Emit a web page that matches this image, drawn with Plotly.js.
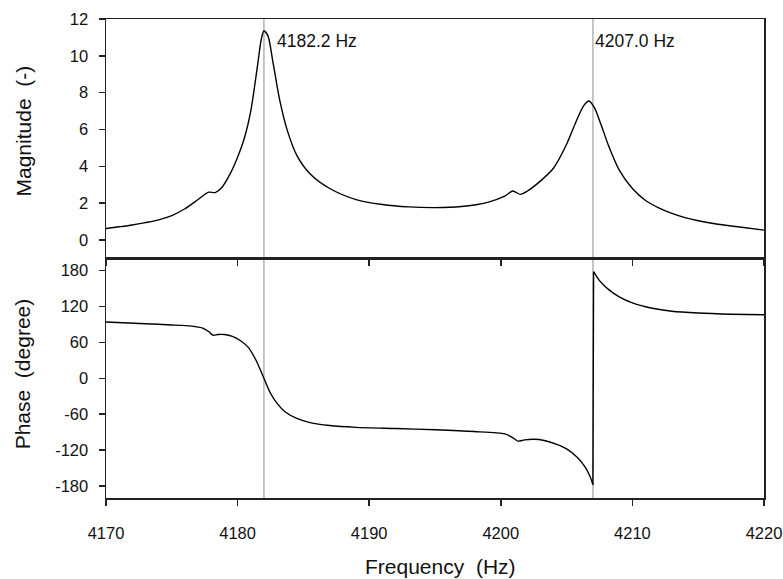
<!DOCTYPE html>
<html>
<head>
<meta charset="utf-8">
<script src="https://cdn.plot.ly/plotly-3.0.1.min.js"></script>
<style>html,body{margin:0;padding:0;background:#fff}#chart{width:783px;height:579px}</style>
</head>
<body>
<div id="chart"></div>
<script>
// Magnitude response
const magFreq = [4170, 4171, 4172, 4173, 4174, 4175, 4176, 4177, 4177.8, 4178.3, 4178.8, 4179.4, 4180.0, 4180.5, 4181.0, 4181.5, 4181.8, 4182.0, 4182.3, 4182.7, 4183.2, 4183.8, 4184.5, 4185.5, 4187, 4189, 4191, 4193, 4195, 4197, 4199, 4200.3, 4200.9, 4201.5, 4202, 4203, 4204, 4205, 4205.7, 4206.3, 4206.7, 4207.1, 4207.6, 4208.2, 4209, 4210, 4211, 4212, 4213, 4214, 4215, 4216.5, 4218, 4220];
const magnitude = [0.63, 0.72, 0.82, 0.95, 1.1, 1.33, 1.7, 2.2, 2.6, 2.58, 2.85, 3.55, 4.5, 5.5, 7.0, 9.4, 10.9, 11.35, 11.1, 9.6, 7.6, 5.9, 4.6, 3.6, 2.8, 2.2, 1.93, 1.8, 1.76, 1.82, 2.05, 2.38, 2.66, 2.48, 2.65, 3.2, 3.9, 5.2, 6.4, 7.3, 7.55, 7.2, 6.3, 5.1, 3.8, 2.8, 2.15, 1.75, 1.45, 1.22, 1.05, 0.86, 0.72, 0.54];
// Phase response, below the jump at the second resonance
const phaseFreqLow = [4170, 4173, 4175, 4176.5, 4177.3, 4177.8, 4178.1, 4178.5, 4179, 4179.6, 4180.2, 4180.8, 4181.4, 4182.0, 4182.5, 4183.0, 4183.6, 4184.5, 4185.5, 4187, 4189, 4192, 4195, 4198, 4200.3, 4200.9, 4201.3, 4201.8, 4202.5, 4203.3, 4204.2, 4205, 4205.8, 4206.4, 4206.8, 4207.0];
const phaseLow = [94, 91, 89, 87, 84, 78, 72, 73, 73, 70, 63, 52, 30, 0, -25, -42, -56, -67, -74, -79, -82, -84, -86, -89, -93, -99, -105, -103, -102, -104, -110, -118, -132, -148, -165, -178];
// Phase response, above the jump
const phaseFreqHigh = [4207.05, 4207.5, 4208.2, 4209, 4210, 4211.5, 4213, 4215, 4217.5, 4220];
const phaseHigh = [178, 163, 148, 136, 126, 117, 112, 109, 107, 106];
// Resonance markers
const resonanceLineFreq = [4182.0, 4207.0];
const resonanceLabels = ['4182.2 Hz', '4207.0 Hz'];
const magTicks = [0, 2, 4, 6, 8, 10, 12];
const phaseTicks = [-180, -120, -60, 0, 60, 120, 180];
const freqTicks = [4170, 4180, 4190, 4200, 4210, 4220];

const font = 'Liberation Sans, Arial, sans-serif';
const tickFont = {family: font, size: 16.5, color: '#111'};
const titleFont = {family: font, size: 21, color: '#111'};

const jumpX = [phaseFreqLow[phaseFreqLow.length - 1], phaseFreqHigh[0]];
const jumpY = [phaseLow[phaseLow.length - 1], phaseHigh[0]];

const traces = [
  {x: magFreq, y: magnitude, xaxis: 'x', yaxis: 'y', mode: 'lines',
   line: {color: '#000', width: 1.4, shape: 'spline', smoothing: 0.8}, hoverinfo: 'skip'},
  {x: phaseFreqLow, y: phaseLow, xaxis: 'x2', yaxis: 'y2', mode: 'lines',
   line: {color: '#000', width: 1.4, shape: 'spline', smoothing: 0.7}, hoverinfo: 'skip'},
  {x: jumpX, y: jumpY, xaxis: 'x2', yaxis: 'y2', mode: 'lines',
   line: {color: '#000', width: 1.4}, hoverinfo: 'skip'},
  {x: phaseFreqHigh, y: phaseHigh, xaxis: 'x2', yaxis: 'y2', mode: 'lines',
   line: {color: '#000', width: 1.4, shape: 'spline', smoothing: 0.7}, hoverinfo: 'skip'}
];

const axisCommon = {
  showgrid: false, zeroline: false, showline: true, linecolor: '#222', linewidth: 1.5,
  ticks: 'outside', ticklen: 6, tickwidth: 1.5, tickcolor: '#222', tickfont: tickFont
};

const shapes = resonanceLineFreq.map(f => ({
  type: 'line', xref: 'x', yref: 'paper', x0: f, x1: f, y0: 0, y1: 1,
  line: {color: '#b8b8b8', width: 1.6}, layer: 'below'
}));

const annotations = resonanceLineFreq.map((f, i) => ({
  x: f, y: 1, xref: 'x', yref: 'paper', text: resonanceLabels[i],
  showarrow: false, xanchor: 'left', yanchor: 'top',
  xshift: i === 0 ? 11 : 0, yshift: -10,
  font: {family: font, size: 17.5, color: '#111'}
}));
annotations.push(
  {x: -0.1255, y: 0.766, xref: 'paper', yref: 'paper', text: 'Magnitude  (-)', textangle: -90,
   showarrow: false, xanchor: 'center', yanchor: 'middle', font: titleFont},
  {x: -0.1255, y: 0.259, xref: 'paper', yref: 'paper', text: 'Phase  (degree)', textangle: -90,
   showarrow: false, xanchor: 'center', yanchor: 'middle', font: titleFont},
  {x: 0.5076, y: -0.144, xref: 'paper', yref: 'paper', text: 'Frequency  (Hz)',
   showarrow: false, xanchor: 'center', yanchor: 'middle', font: titleFont}
);

const layout = {
  width: 783, height: 579,
  margin: {l: 106, r: 19, t: 19, b: 81},
  paper_bgcolor: '#fff', plot_bgcolor: '#fff',
  showlegend: false,
  xaxis: Object.assign({}, axisCommon, {domain: [0, 1], range: [4170, 4220], tickvals: freqTicks,
    showticklabels: false, mirror: true, anchor: 'y'}),
  yaxis: Object.assign({}, axisCommon, {domain: [0.5, 1], range: [-1, 12], tickvals: magTicks,
    ticktext: magTicks.map(String), mirror: true, anchor: 'x', ticklabelstandoff: 7}),
  xaxis2: Object.assign({}, axisCommon, {domain: [0, 1], range: [4170, 4220], tickvals: freqTicks,
    ticktext: freqTicks.map(String), mirror: true, anchor: 'y2', ticklabelstandoff: 14}),
  yaxis2: Object.assign({}, axisCommon, {domain: [0, 0.5], range: [-200, 200], tickvals: phaseTicks,
    ticktext: phaseTicks.map(String), mirror: true, anchor: 'x2', ticklabelstandoff: 7}),
  shapes: shapes,
  annotations: annotations
};

Plotly.newPlot('chart', traces, layout, {displayModeBar: false, staticPlot: true});
</script>
</body>
</html>
